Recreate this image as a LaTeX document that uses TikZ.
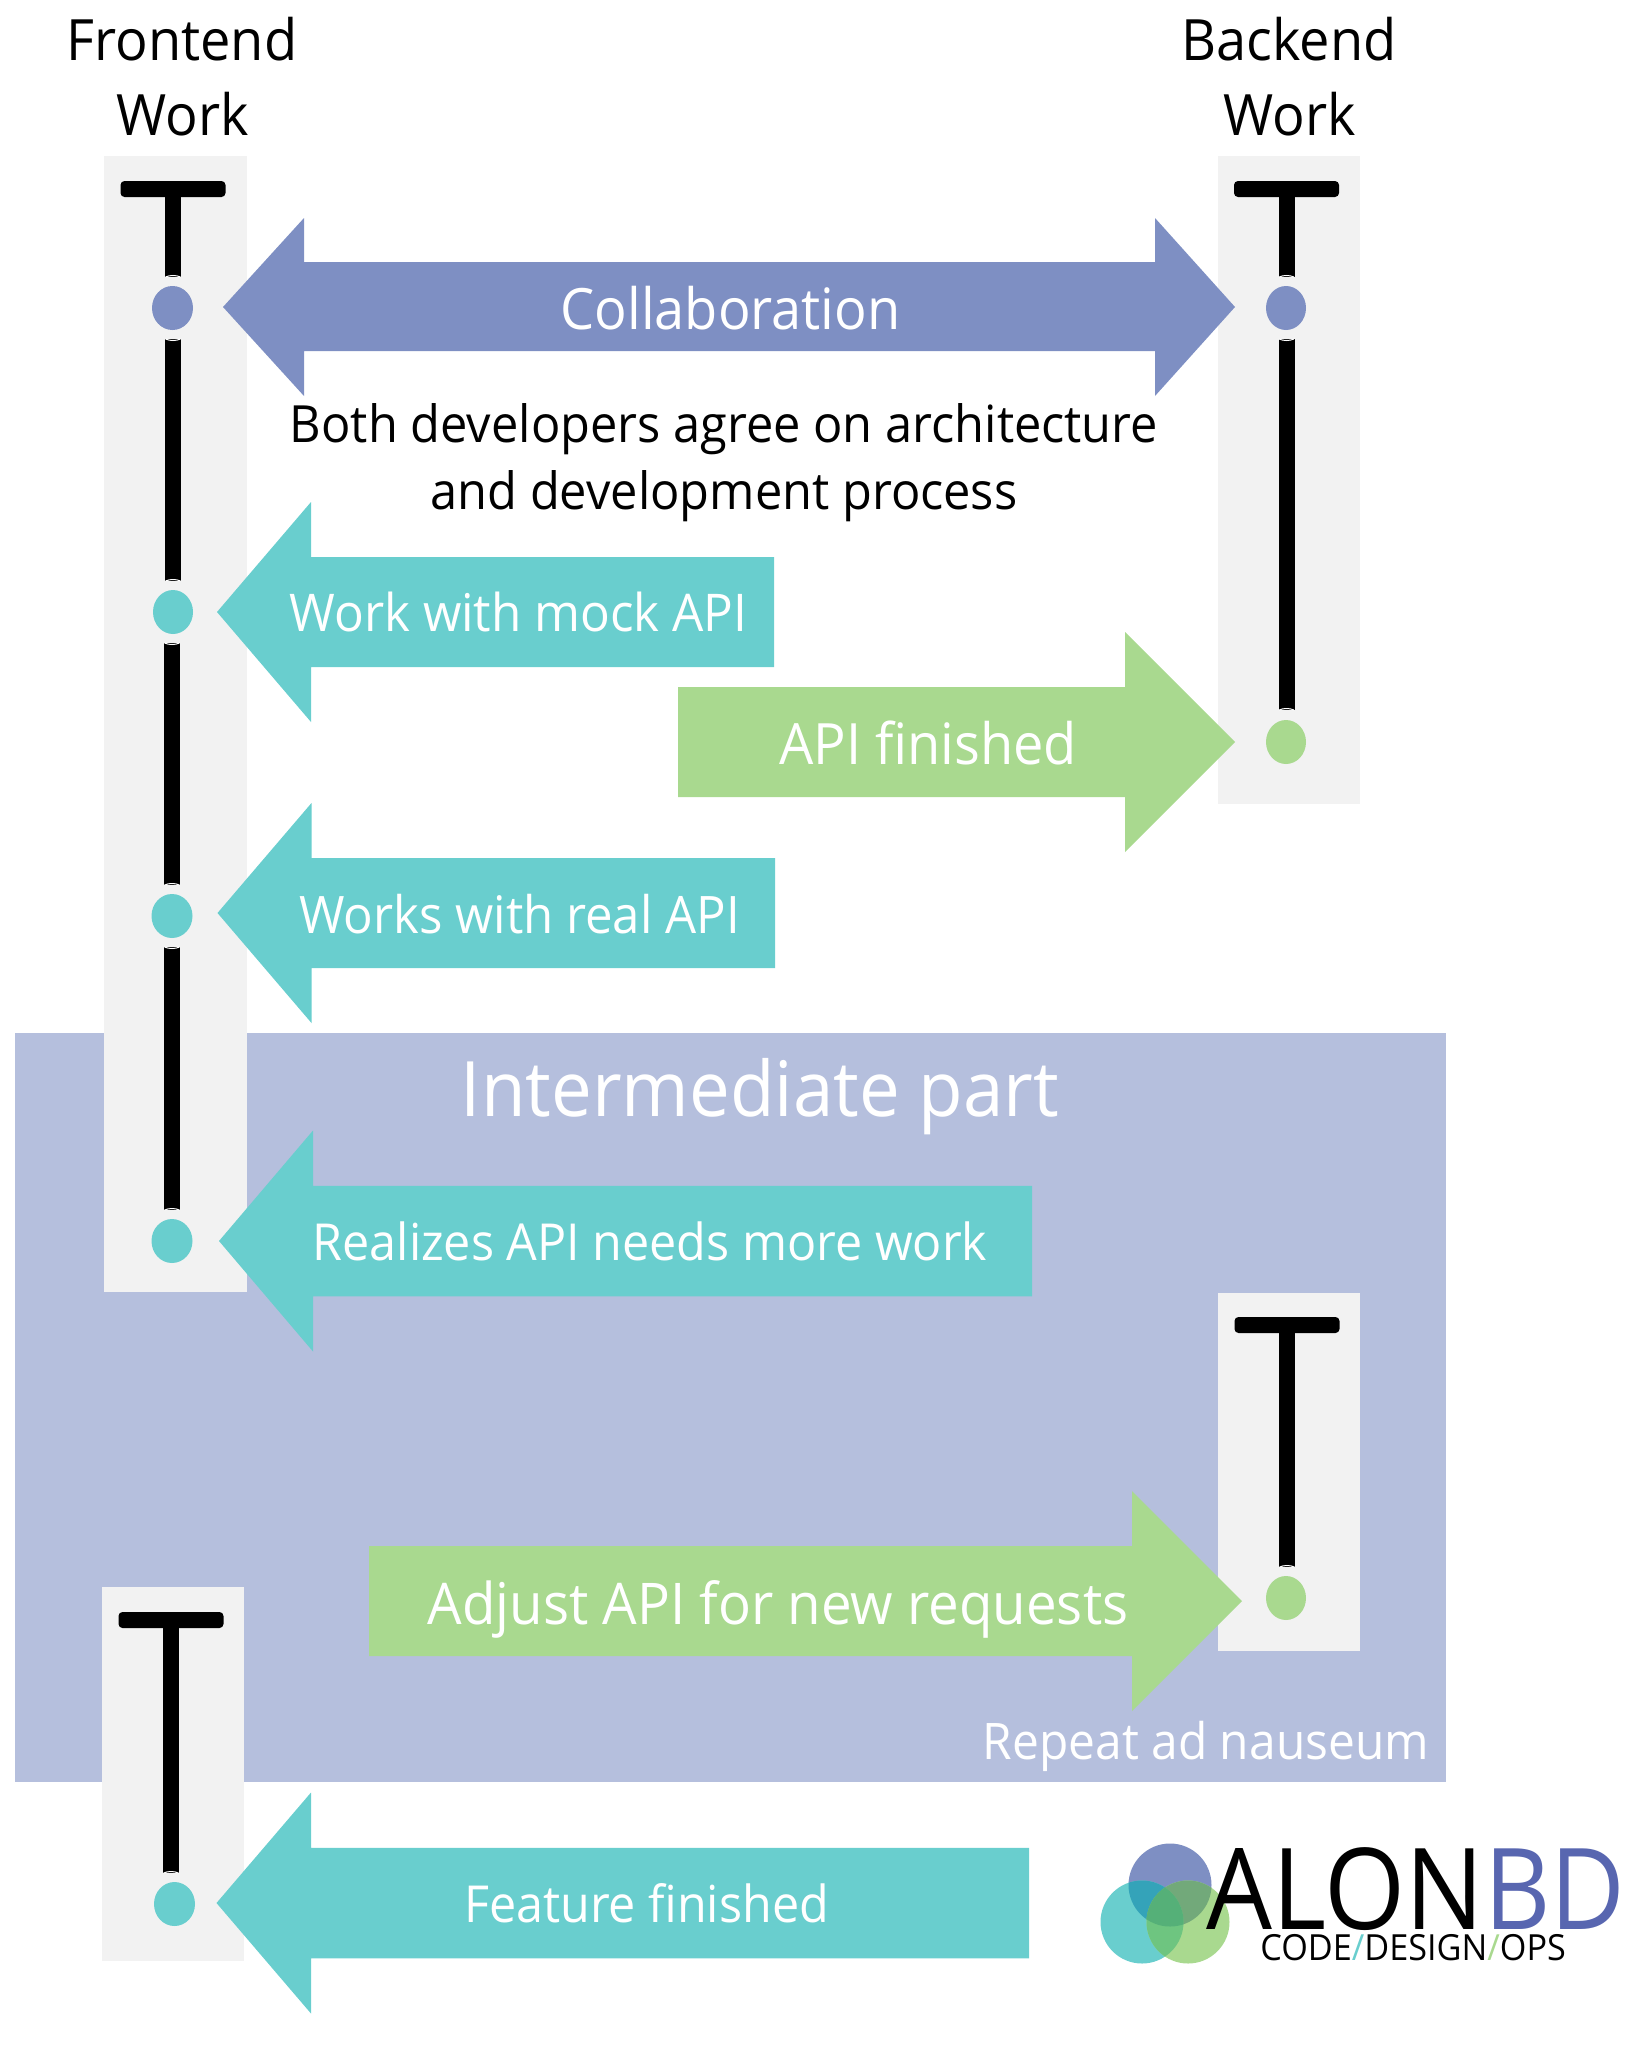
\documentclass[tikz,border=0pt]{standalone}
\usepackage{fontspec}
\setmainfont[FakeStretch=0.95]{Open Sans}
\usepackage{tikz}

\definecolor{collabblue}{HTML}{7E8FC3}
\definecolor{frontteal}{HTML}{69CECE}
\definecolor{backgreen}{HTML}{A9D98F}
\definecolor{repeatblue}{HTML}{B5BFDD}
\definecolor{panelgray}{HTML}{F2F2F2}
\definecolor{logoblue}{HTML}{5866B0}

\tikzset{
	panelbox/.style={fill=panelgray},
	blacktext/.style={anchor=base,inner sep=0pt,align=center,text=black},
	whitetext/.style={anchor=base,inner sep=0pt,text=white},
	stemline/.style={line width=8pt,black},
	logotext/.style={anchor=base west,inner sep=0pt},
}

% size of a text in reference pixels
\newcommand{\pxfont}[1]{\pgfmathsetmacro{\fsize}{#1*0.5}\fontsize{\fsize}{\fsize}\selectfont}

% T head and stem of one lifeline: x of stem, y of bar, y where the stem stops
\newcommand{\lifehead}[3]{%
	\fill[rounded corners=2pt,black] (#1-52.5,#2) rectangle (#1+52.5,#2+16);
	\draw[stemline] (#1,#2+8) -- (#1,#3);
}

% block arrows: colour, tip x, y, back x of head, tail x, half width of head
\newcommand{\blockarrow}[6]{%
	\fill[#1] (#2,#3) -- (#4,#3-#6) -- (#4,#3-#6*0.5) -- (#5,#3-#6*0.5) -- (#5,#3+#6*0.5) -- (#4,#3+#6*0.5) -- (#4,#3+#6) -- cycle;
}

\begin{document}
\begin{tikzpicture}[x=0.5pt,y=-0.5pt]
	\useasboundingbox (0,0) rectangle (1638,2055);
	
	% part that repeats
	\fill[repeatblue] (15,1033) rectangle (1446,1782);
	
	% grey panels
	\fill[panelbox] (104,156) rectangle (247,1292); % frontend
	\fill[panelbox] (1218,156) rectangle (1360,804); % backend
	\fill[panelbox] (1218,1293) rectangle (1360,1651); % backend, second time
	\fill[panelbox] (102,1587) rectangle (244,1961); % frontend, last time
	
	% lifelines
	\lifehead{173}{181}{277}
	\lifehead{1286.5}{181}{277}
	\lifehead{1287}{1317}{1567}
	\lifehead{171}{1612}{1873}
	\draw[stemline] (173,339) -- (173,581);
	\draw[stemline] (172,643) -- (172,885);
	\draw[stemline] (172,947) -- (172,1210);
	\draw[stemline] (1286.5,339) -- (1286.5,710);
	
	% light arcs where a stem stops at a dot
	\foreach \cx/\cy/\bulge in {173/277/-2,173/339/2,173/581/-2,172/643/2,172/885/-2,172/947/2,172/1210/-2,1286.5/277/-2,1286.5/339/2,1286.5/710/-2,1287/1567/-2,171/1873/-2}
		\draw[white,line width=0.5pt] (\cx-7.5,\cy) .. controls (\cx-3,\cy+\bulge) and (\cx+3,\cy+\bulge) .. (\cx+7.5,\cy);
	
	% dots on the lifelines
	\fill[collabblue] (172.5,308) ellipse (20.5 and 22);
	\fill[collabblue] (1286,308) ellipse (20 and 22);
	\fill[frontteal] (173,612) ellipse (20 and 22);
	\fill[backgreen] (1286,742) ellipse (20 and 22);
	\fill[frontteal] (172,916) ellipse (20.5 and 22);
	\fill[frontteal] (172,1241) ellipse (20.5 and 22);
	\fill[backgreen] (1286,1598) ellipse (20 and 22);
	\fill[frontteal] (174.5,1904) ellipse (20.5 and 22);
	
	% block arrows
	\fill[collabblue] (223,307) -- (304,218) -- (304,262) -- (1155,262) -- (1155,218) -- (1235,307) -- (1155,396) -- (1155,351) -- (304,351) -- (304,396) -- cycle;
	\blockarrow{frontteal}{217}{612}{311}{774}{110}
	\blockarrow{backgreen}{1235}{742}{1125}{678}{110}
	\blockarrow{frontteal}{217.5}{913}{311.5}{775}{110}
	\blockarrow{frontteal}{219}{1241}{313}{1032}{110.5}
	\blockarrow{backgreen}{1242}{1601}{1132}{369}{110}
	\blockarrow{frontteal}{216.5}{1903}{311}{1029}{110.5}
	
	% texts
	\node[blacktext,font=\pxfont{57}] (frontendtitle) at (182,60.5) {Frontend};
	\node[blacktext,font=\pxfont{57}] (frontendwork) at (183,135.5) {Work};
	\node[blacktext,font=\pxfont{57}] (backendtitle) at (1289,60.5) {Backend};
	\node[blacktext,font=\pxfont{57}] (backendwork) at (1290,135.5) {Work};
	\node[whitetext,font=\pxfont{57}] (collablabel) at (730.5,329) {Collaboration};
	\node[blacktext,font=\pxfont{51.3}] (agreelineone) at (724,442.5) {Both developers agree on architecture};
	\node[blacktext,font=\pxfont{51.3}] (agreelinetwo) at (724,509.5) {and development process};
	\node[whitetext,font=\pxfont{52}] (mocklabel) at (518.5,631) {Work with mock API};
	\node[whitetext,font=\pxfont{57}] (finishedlabel) at (928,764) {API finished};
	\node[whitetext,font=\pxfont{51.7}] (reallabel) at (519.5,933) {Works with real API};
	\node[whitetext,font=\pxfont{76.5}] (partlabel) at (760,1116) {Intermediate part};
	\node[whitetext,font=\pxfont{51}] (moreworklabel) at (650,1260) {Realizes API needs more work};
	\node[whitetext,font=\pxfont{57.5}] (adjustlabel) at (778,1624) {Adjust API for new requests};
	\node[whitetext,font=\pxfont{50.4}] (repeatlabel) at (1206,1759) {Repeat ad nauseum};
	\node[whitetext,font=\pxfont{51}] (featurelabel) at (646.5,1922) {Feature finished};
	
	% logo circles, the overlaps have colours of their own
	\fill[collabblue] (1170,1885) circle (41.5);
	\fill[frontteal] (1142,1922) circle (41.5);
	\fill[backgreen] (1188,1922) circle (41.5);
	\begin{scope}
		\clip (1170,1885) circle (41.5);
		\fill[color={rgb,255:red,52;green,163;blue,185}] (1142,1922) circle (41.5);
		\fill[color={rgb,255:red,114;green,169;blue,122}] (1188,1922) circle (41.5);
	\end{scope}
	\begin{scope}
		\clip (1142,1922) circle (41.5);
		\fill[color={rgb,255:red,110;green,197;blue,128}] (1188,1922) circle (41.5);
		\clip (1170,1885) circle (41.5);
		\fill[color={rgb,255:red,85;green,176;blue,120}] (1188,1922) circle (41.5);
	\end{scope}
	
	% logo letters
	\node[logotext,text=black,font=\pxfont{113}] (logoname) at (1206,1929) {\scalebox{0.97}[1]{ALON}};
	\node[logotext,text=logoblue,font=\pxfont{113}] (logobd) at (1484,1929) {\scalebox{0.955}[1]{BD}};
	\node[logotext,text=black,font=\pxfont{36}] (logotag) at (1260,1960) {CODE\textcolor{frontteal}{/}DESIGN\textcolor{backgreen}{/}OPS};
	
\end{tikzpicture}
\end{document}
